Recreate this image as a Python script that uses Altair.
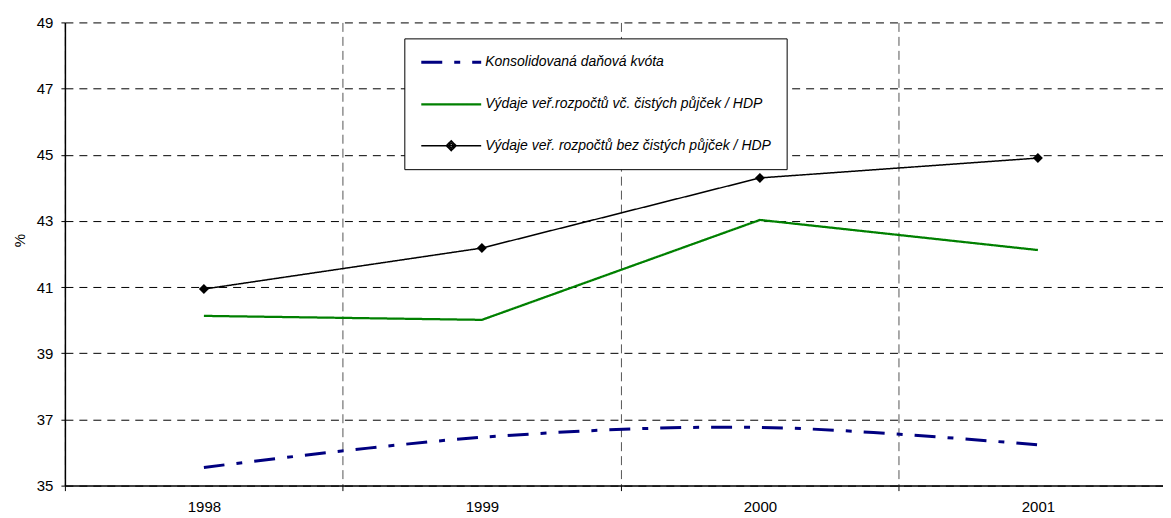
import altair as alt
import pandas as pd

years = [1998, 1999, 2000, 2001]
s1 = "Konsolidovaná daňová kvóta"
s2 = "Výdaje veř.rozpočtů vč. čistých půjček / HDP"
s3 = "Výdaje veř. rozpočtů bez čistých půjček / HDP"
series_names = [s1, s2, s3]
kvota = [35.55, 36.46, 36.76, 36.23]
vydaje_vc = [40.13, 40.01, 43.03, 42.12]
vydaje_bez = [40.94, 42.18, 44.30, 44.90]
y_ticks = [35, 37, 39, 41, 43, 45, 47, 49]
x_axis_values = [1997.5, 1998, 1998.5, 1999, 1999.5, 2000, 2000.5, 2001]
colors = ["#000080", "#008000", "#000000"]
dashes = [[21, 12, 6, 12], [1, 0], [1, 0]]
widths = [3, 1.5, 1.5]
line_path = "M-4,0L4,0"
diamond_path = "M-4,0L4,0M0,-0.65L0.65,0L0,0.65L-0.65,0ZM0,-0.35L0.35,0L0,0.35L-0.35,0Z"
shapes = [line_path, line_path, diamond_path]

rows = []
for name, vals in zip(series_names, [kvota, vydaje_vc, vydaje_bez]):
    for yr, v in zip(years, vals):
        rows.append({"year": yr, "value": v, "series": name})
df = pd.DataFrame(rows)

FONT = "Liberation Sans"
FS = 14
AXFS = 15

x_enc = alt.X(
    "year:Q",
    scale=alt.Scale(domain=[1997.5, 2001.45], nice=False, zero=False),
    axis=alt.Axis(
        values=x_axis_values,
        labelExpr="datum.value % 1 == 0 ? format(datum.value, 'd') : ''",
        title=None,
        grid=True,
        gridColor="#555555",
        gridDash=[9, 5],
        gridWidth=1,
        gridOpacity={"condition": {"test": "datum.value % 1 != 0", "value": 1}, "value": 0},
        tickOpacity={"condition": {"test": "datum.value % 1 != 0", "value": 1}, "value": 0},
        tickSize=5,
        tickColor="black",
        domainColor="black",
        domainWidth=1.5,
        labelFont=FONT,
        labelFontSize=AXFS,
        labelColor="black",
        labelPadding=9,
        labelFlush=False,
        labelOverlap=False,
    ),
)
y_enc = alt.Y(
    "value:Q",
    scale=alt.Scale(domain=[35, 49], nice=False, zero=False),
    axis=alt.Axis(
        values=y_ticks,
        title="%",
        titleFont=FONT,
        titleFontSize=AXFS,
        titleFontWeight="normal",
        titleColor="black",
        titleAngle=-90,
        titleAlign="center",
        titleBaseline="middle",
        titleX=-45,
        titleY=218,
        grid=True,
        gridColor="black",
        gridDash=[8, 6],
        gridWidth=1,
        tickSize=4,
        tickColor="black",
        domainColor="black",
        domainWidth=1.5,
        labelFont=FONT,
        labelFontSize=AXFS,
        labelColor="black",
        labelPadding=8,
    ),
)

legend = alt.Legend(
    title=None,
    orient="none",
    legendX=340,
    legendY=16,
    direction="vertical",
    strokeColor="black",
    fillColor="white",
    padding=15,
    cornerRadius=0,
    symbolSize=225,
    symbolOffset=23,
    labelOffset=25,
    labelFont=FONT,
    labelFontStyle="italic",
    labelFontSize=FS,
    labelColor="black",
    labelLimit=500,
)

color_enc = alt.Color("series:N", scale=alt.Scale(domain=series_names, range=colors), legend=legend)
dash_enc = alt.StrokeDash("series:N", scale=alt.Scale(domain=series_names, range=dashes))
width_enc = alt.StrokeWidth("series:N", scale=alt.Scale(domain=series_names, range=widths))
shape_enc = alt.Shape("series:N", scale=alt.Scale(domain=series_names, range=shapes))

base = alt.Chart(df)

blue = base.transform_filter(alt.datum.series == s1).mark_line(
    interpolate="cardinal"
).encode(x=x_enc, y=y_enc, color=color_enc, strokeDash=dash_enc, strokeWidth=width_enc)

others = base.transform_filter(alt.datum.series != s1).mark_line().encode(
    x=x_enc, y=y_enc, color=color_enc, strokeDash=dash_enc, strokeWidth=width_enc
)

points = base.transform_filter(alt.datum.series == s3).mark_point(
    shape="diamond", filled=True, size=100, color="black", opacity=1
).encode(x=x_enc, y=y_enc)

dummy = base.transform_filter("false").mark_point(filled=False, opacity=1).encode(
    x=x_enc, y=y_enc, color=color_enc, strokeDash=dash_enc, strokeWidth=width_enc, shape=shape_enc
)

chart = (
    alt.layer(blue, others, points, dummy)
    .properties(
        width=1100,
        height=464,
        autosize=alt.AutoSizeParams(type="none"),
        padding={"left": 57, "top": 14, "right": 0, "bottom": 30},
        background="white",
    )
    .configure_view(stroke=None)
    .configure_legend(rowPadding=26)
)

chart.save("out.html", embed_options={"renderer": "svg", "actions": False})
